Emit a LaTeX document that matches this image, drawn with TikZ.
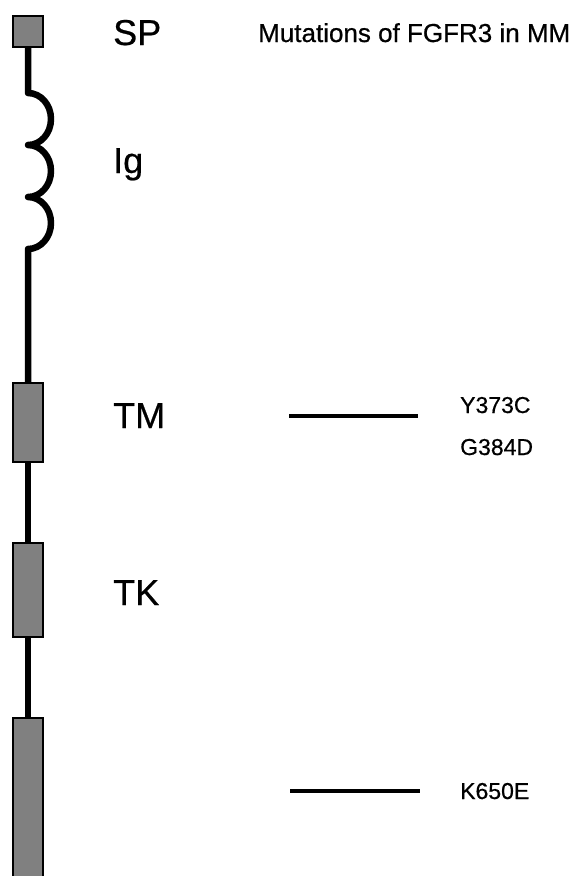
\documentclass[tikz,border=0pt]{standalone}
\usepackage{fontspec}
\setmainfont{Liberation Sans}[FakeBold=0.6]
\begin{document}
\begin{tikzpicture}[x=1pt,y=-1pt,
  domainbox/.style={draw=black,line width=1.6pt,fill=black!50,
    minimum width=30.5pt,inner sep=0pt,outer sep=0pt},
  backbone/.style={line width=6.5pt,line join=round},
  mutline/.style={line width=3.6pt},
  domlabel/.style={anchor=base west,inner sep=0pt,font=\fontsize{36}{40}\selectfont},
  mutlabel/.style={anchor=base west,inner sep=0pt,font=\fontsize{23}{26}\selectfont},
  titlelabel/.style={anchor=base west,inner sep=0pt,font=\fontsize{26}{30}\selectfont}]
\useasboundingbox (0,0) rectangle (579,876);
\clip (0,0) rectangle (579,876);

% protein backbone: signal peptide, Ig loops, and the boxed domains
\coordinate (igtop) at (28,93);
\coordinate (igbot) at (28,249);
\draw[backbone] (28,40) -- (igtop)
  arc[start angle=-90,end angle=90,x radius=23,y radius=26]
  arc[start angle=-90,end angle=90,x radius=23,y radius=26]
  arc[start angle=-90,end angle=90,x radius=23,y radius=26]
  -- (28,400);
\draw[backbone] (28,450) -- (28,600);
\draw[backbone] (28,620) -- (28,760);

\node[domainbox,minimum height=31.5pt] (sp) at (28,31.5) {};
\node[domainbox,minimum height=79.5pt] (tm) at (28,422.5) {};
\node[domainbox,minimum height=94.5pt] (tk) at (28,590) {};
\node[domainbox,minimum height=182pt] (kd) at (28,809) {};

% domain names
\node[domlabel] (lsp) at (113,45) {SP};
\node[domlabel] (lig) at (113,173) {Ig};
\node[domlabel] (ltm) at (113,428) {TM};
\node[domlabel] (ltk) at (113,605) {TK};

% title
\node[titlelabel] (title) at (258,42) {Mutations of FGFR3 in MM};

% mutation markers
\coordinate (m1a) at (289,416);
\coordinate (m1b) at (418,416);
\coordinate (m2a) at (290,791);
\coordinate (m2b) at (420,791);
\draw[mutline] (m1a) -- (m1b);
\draw[mutline] (m2a) -- (m2b);
\node[mutlabel] (y373c) at (460,413) {Y373C};
\node[mutlabel] (g384d) at (460,455) {G384D};
\node[mutlabel] (k650e) at (460,799) {K650E};
\end{tikzpicture}
\end{document}
